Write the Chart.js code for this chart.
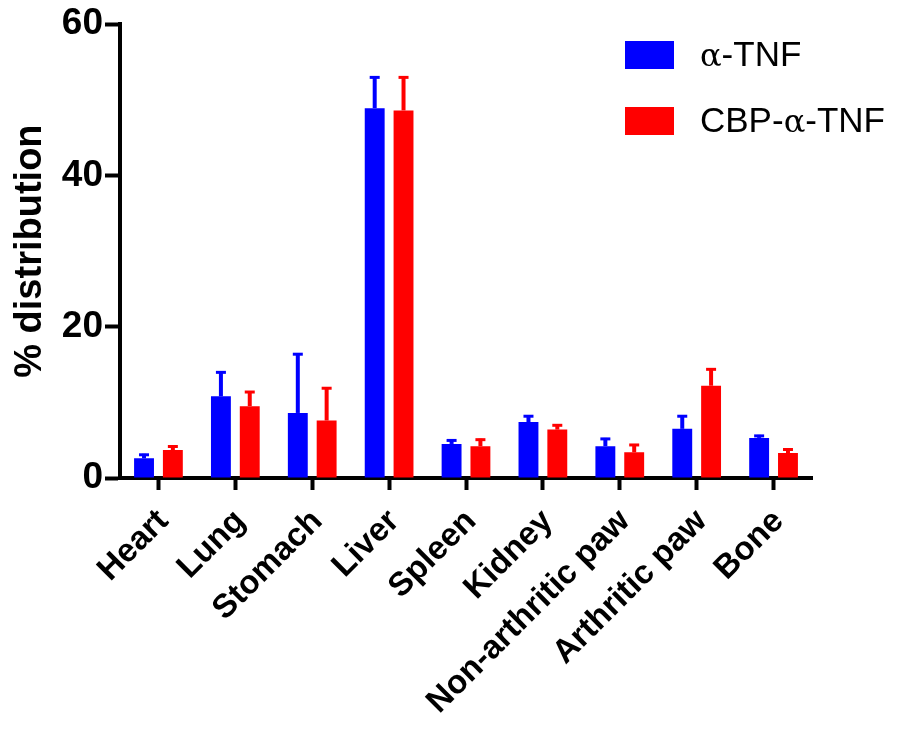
<!DOCTYPE html>
<html>
<head>
<meta charset="utf-8">
<script src="https://cdn.jsdelivr.net/npm/chart.js@4"></script>
<style>
  body { margin: 0; background: #fff; }
  #wrap { position: relative; width: 901px; height: 730px; }
  .legend { position: absolute; left: 625px; font-family: "Liberation Sans", Arial, sans-serif; font-size: 35px; color: #000; }
  .legend span.box { position: absolute; left: 0; width: 49px; height: 28px; }
  .legend span.txt { position: absolute; left: 75px; top: -7px; white-space: nowrap; }
  .legend i { font-style: normal; font-family: "DejaVu Serif", "Liberation Serif", serif; font-size: 32px; }
</style>
</head>
<body>
<div id="wrap">
  <canvas id="bioChart" width="901" height="730"></canvas>
  <div class="legend" style="top:41px"><span class="box" style="background:#0000ff"></span><span class="txt"><i>α</i>-TNF</span></div>
  <div class="legend" style="top:107px"><span class="box" style="background:#ff0000"></span><span class="txt">CBP-<i>α</i>-TNF</span></div>
</div>
<script>
const organs = ['Heart', 'Lung', 'Stomach', 'Liver', 'Spleen', 'Kidney', 'Non-arthritic paw', 'Arthritic paw', 'Bone'];
const tnfMean = [2.6, 10.8, 8.6, 48.9, 4.5, 7.4, 4.2, 6.5, 5.3];
const tnfErr = [0.6, 3.3, 7.9, 4.2, 0.6, 0.9, 1.1, 1.8, 0.4];
const cbpMean = [3.7, 9.5, 7.6, 48.6, 4.2, 6.4, 3.4, 12.2, 3.3];
const cbpErr = [0.6, 2.0, 4.4, 4.5, 1.0, 0.7, 1.1, 2.3, 0.6];
const yTicks = [0, 20, 40, 60];

// upper-only error bars with a cap, same colour as the bar
const errorBars = {
    id: 'errorBars',
    afterDatasetsDraw(chart) {
        const ctx = chart.ctx;
        const yScale = chart.scales.y;
        chart.data.datasets.forEach((ds, i) => {
            const meta = chart.getDatasetMeta(i);
            meta.data.forEach((bar, j) => {
                const top = yScale.getPixelForValue(ds.data[j] + ds.errors[j]);
                ctx.save();
                ctx.strokeStyle = ds.backgroundColor;
                ctx.lineWidth = 4;
                ctx.beginPath();
                ctx.moveTo(bar.x, bar.y);
                ctx.lineTo(bar.x, top);
                ctx.stroke();
                ctx.lineWidth = 3;
                ctx.beginPath();
                ctx.moveTo(bar.x - 5, top + 1);
                ctx.lineTo(bar.x + 5, top + 1);
                ctx.stroke();
                ctx.restore();
            });
        });
    }
};

const ctx = document.getElementById('bioChart').getContext('2d');
new Chart(ctx, {
    type: 'bar',
    data: {
        labels: organs,
        datasets: [{
            label: 'α-TNF',
            data: tnfMean,
            errors: tnfErr,
            backgroundColor: '#0000ff'
        }, {
            label: 'CBP-α-TNF',
            data: cbpMean,
            errors: cbpErr,
            backgroundColor: '#ff0000'
        }]
    },
    options: {
        responsive: false,
        animation: false,
        devicePixelRatio: 1,
        layout: { padding: { top: 2, right: 89, left: 0, bottom: 0 } },
        datasets: { bar: { categoryPercentage: 0.75, barPercentage: 0.69 } },
        plugins: {
            legend: { display: false },
            tooltip: { enabled: false }
        },
        scales: {
            x: {
                grid: { display: true, offset: false, drawOnChartArea: false, tickLength: 12, tickWidth: 4, tickColor: '#000' },
                border: { display: true, width: 4, color: '#000' },
                ticks: {
                    color: '#000',
                    font: { family: 'Liberation Sans', weight: 'bold', size: 33 },
                    minRotation: 45,
                    maxRotation: 45,
                    autoSkip: false,
                    padding: 12,
                    labelOffset: 5
                },
                afterFit(scale) { scale.height = 252; }
            },
            y: {
                min: 0,
                max: 60,
                afterBuildTicks(scale) { scale.ticks = yTicks.map(v => ({ value: v })); },
                grid: { display: true, drawOnChartArea: false, tickLength: 15, tickWidth: 4, tickColor: '#000' },
                border: { display: true, width: 4, color: '#000' },
                ticks: {
                    color: '#000',
                    font: { family: 'Liberation Sans', weight: 'bold', size: 37 },
                    padding: 2
                },
                title: {
                    display: true,
                    text: '% distribution',
                    color: '#000',
                    font: { family: 'Liberation Sans', weight: 'bold', size: 38 },
                    padding: { top: 8, bottom: 0 }
                },
                afterFit(scale) { scale.width = 120; }
            }
        }
    },
    plugins: [errorBars]
});
</script>
</body>
</html>
